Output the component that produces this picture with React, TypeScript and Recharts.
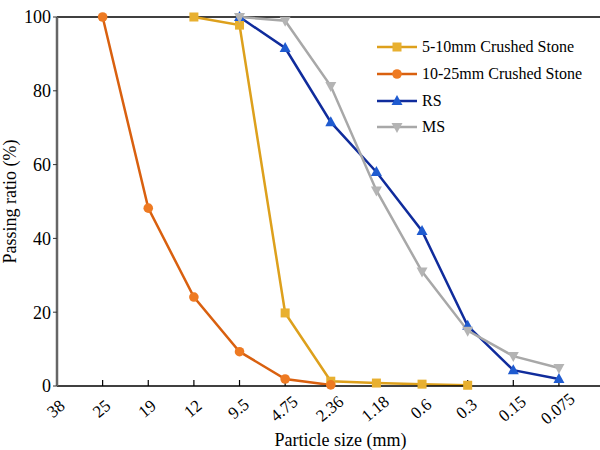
import React from 'react';
import { LineChart, Line, XAxis, YAxis, ReferenceLine } from 'recharts';

const sizes = ['38', '25', '19', '12', '9.5', '4.75', '2.36', '1.18', '0.6', '0.3', '0.15', '0.075'];
const yTicks = [0, 20, 40, 60, 80, 100];

const stone510: (number | null)[] = [null, null, null, 100, 97.8, 19.8, 1.3, 0.8, 0.5, 0.2, null, null];
const stone1025: (number | null)[] = [null, 100, 48.2, 24.1, 9.3, 1.9, 0.3, null, null, null, null, null];
const rs: (number | null)[] = [null, null, null, null, 100, 91.6, 71.5, 58, 42, 16.3, 4.3, 1.9];
const ms: (number | null)[] = [null, null, null, null, 100, 99, 81.3, 53, 31, 15, 8.1, 4.9];

const data = sizes.map((s, i) => ({
  idx: i,
  size: s,
  s510: stone510[i],
  s1025: stone1025[i],
  rs: rs[i],
  ms: ms[i],
}));

const FONT = "'Liberation Serif', 'Times New Roman', serif";

type Shape = 'square' | 'circle' | 'up' | 'down';

const series = [
  { key: 's510', name: '5-10mm Crushed Stone', stroke: '#DDA01C', fill: '#E8B030', shape: 'square' as Shape },
  { key: 's1025', name: '10-25mm Crushed Stone', stroke: '#D9600F', fill: '#EE7A22', shape: 'circle' as Shape },
  { key: 'rs', name: 'RS', stroke: '#102C9C', fill: '#1F5BD0', shape: 'up' as Shape },
  { key: 'ms', name: 'MS', stroke: '#A8A8A8', fill: '#B4B4B4', shape: 'down' as Shape },
];

function Marker({ cx, cy, shape, fill }: { cx: number; cy: number; shape: Shape; fill: string }) {
  if (cx == null || cy == null || isNaN(cx) || isNaN(cy)) return null;
  if (shape === 'square') return <rect x={cx - 4.5} y={cy - 4.5} width={9} height={9} fill={fill} />;
  if (shape === 'circle') return <circle cx={cx} cy={cy} r={4.8} fill={fill} />;
  if (shape === 'up')
    return <path d={`M${cx},${cy - 6} L${cx + 5.5},${cy + 4} L${cx - 5.5},${cy + 4} Z`} fill={fill} />;
  return <path d={`M${cx},${cy + 6} L${cx + 5.5},${cy - 4} L${cx - 5.5},${cy - 4} Z`} fill={fill} />;
}

const makeDot = (shape: Shape, fill: string) => (props: any) => {
  const { cx, cy, value, index } = props;
  if (value == null) return <g key={index} />;
  return (
    <g key={index}>
      <Marker cx={cx} cy={cy} shape={shape} fill={fill} />
    </g>
  );
};

const XTick = (props: any) => {
  const { x, y, payload } = props;
  const label = sizes[payload.value] ?? '';
  const ty = y + 16;
  return (
    <text
      x={x}
      y={ty}
      textAnchor="middle"
      dominantBaseline="middle"
      transform={`rotate(-40 ${x} ${ty})`}
      style={{ fontFamily: FONT }}
      fontSize={17}
      fill="#000"
    >
      {label}
    </text>
  );
};

const LegendBox = () => (
  <div style={{ position: 'absolute', left: 377, top: 34, fontFamily: FONT, fontSize: 16, color: '#000' }}>
    {series.map((s) => (
      <div key={s.key} style={{ display: 'flex', alignItems: 'center', height: 26.7, whiteSpace: 'nowrap' }}>
        <svg width={44} height={16} style={{ marginRight: 1 }}>
          <line x1={0} y1={8} x2={40} y2={8} stroke={s.stroke} strokeWidth={2.5} />
          <Marker cx={20} cy={8} shape={s.shape} fill={s.fill} />
        </svg>
        <span>{s.name}</span>
      </div>
    ))}
  </div>
);

export default function App() {
  return (
    <div style={{ position: 'absolute', left: 0, top: 0, width: 600, height: 450, background: '#fff', fontFamily: FONT }}>
      <LineChart width={600} height={450} data={data} margin={{ top: 17, right: 0, bottom: 0, left: 0 }} style={{ fontFamily: FONT }}>
        <ReferenceLine y={100} stroke="#000" strokeWidth={1.5} ifOverflow="visible" />
        <XAxis
          dataKey="idx"
          type="number"
          domain={[0, 11.9]}
          ticks={sizes.map((_, i) => i)}
          allowDataOverflow
          height={64}
          tick={<XTick />}
          tickLine={{ stroke: '#000', strokeWidth: 1.2, transform: 'translate(0,-6)' }}
          tickSize={6}
          axisLine={{ stroke: '#000', strokeWidth: 1.5 }}
          interval={0}
          label={{ value: 'Particle size (mm)', position: 'insideBottom', offset: 4, dx: 12, fontSize: 18, fill: '#000', style: { fontFamily: FONT } }}
        />
        <YAxis
          type="number"
          domain={[0, 100]}
          ticks={yTicks}
          width={57}
          tickSize={4}
          tickLine={{ stroke: '#333' }}
          axisLine={{ stroke: '#666', strokeWidth: 2.5 }}
          tick={{ fontSize: 18, fill: '#000', style: { fontFamily: FONT } }}
          label={{ value: 'Passing ratio (%)', angle: -90, position: 'insideLeft', offset: 10, fontSize: 18, fill: '#000', style: { textAnchor: 'middle', fontFamily: FONT } }}
        />
        {series.map((s) => (
          <Line
            key={s.key}
            dataKey={s.key}
            name={s.name}
            stroke={s.stroke}
            strokeWidth={2.5}
            dot={makeDot(s.shape, s.fill)}
            activeDot={false}
            isAnimationActive={false}
            connectNulls={false}
          />
        ))}
      </LineChart>
      <LegendBox />
    </div>
  );
}
